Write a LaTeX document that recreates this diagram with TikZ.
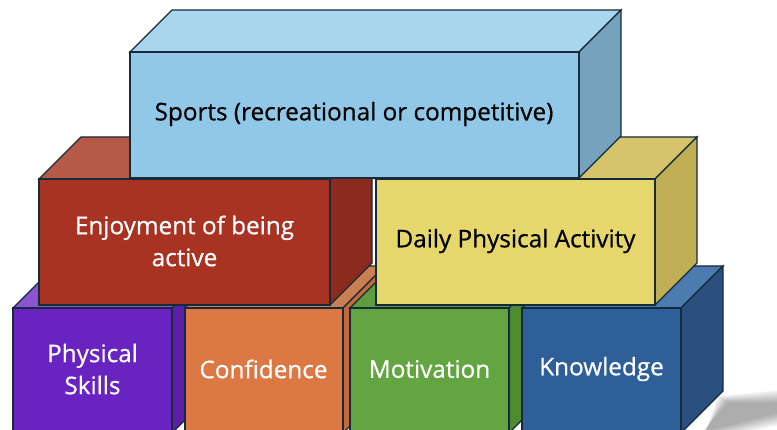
\documentclass[tikz,border=0pt]{standalone}
\usepackage{fontspec}
\setmainfont{Open Sans}
\newfontfamily\lblfont{Open Sans}[BoldFont={Open Sans}, BoldFeatures={FakeBold=0.6}]
\usetikzlibrary{calc}
\definecolor{edge}{HTML}{152A3A}
\definecolor{spF}{HTML}{92C8E7}\definecolor{spT}{HTML}{A9D5EE}\definecolor{spS}{HTML}{76A2BD}
\definecolor{rdF}{HTML}{A93322}\definecolor{rdT}{HTML}{B65A48}\definecolor{rdS}{HTML}{8B2A1E}
\definecolor{ylF}{HTML}{E6D76C}\definecolor{ylT}{HTML}{D6C56A}\definecolor{ylS}{HTML}{C0AF55}
\definecolor{puF}{HTML}{6923C0}\definecolor{puT}{HTML}{8B55D2}\definecolor{puS}{HTML}{5A1EA8}
\definecolor{orF}{HTML}{DC7843}\definecolor{orT}{HTML}{C97F4F}\definecolor{orS}{HTML}{C46A38}
\definecolor{grF}{HTML}{63A540}\definecolor{grT}{HTML}{5E9C3D}\definecolor{grS}{HTML}{4F8C31}
\definecolor{blF}{HTML}{2F5F99}\definecolor{blT}{HTML}{4C7BB0}\definecolor{blS}{HTML}{2B4F7E}
\newcommand\blockbox[7]{%
  \filldraw[fill=#6] (#1,#2) -- ++(42,-42) -- ++(#3,0) -- ++(-42,42) -- cycle;
  \filldraw[fill=#7] (#1+#3,#2) -- ++(42,-42) -- ++(0,#4) -- ++(-42,42) -- cycle;
  \filldraw[fill=#5] (#1,#2) rectangle ++(#3,#4);
}
\tikzset{
  lbl/.style={font=\lblfont\bfseries\fontsize{24.3}{32}\selectfont, align=center, inner sep=0pt},
  lblw/.style={lbl, text=white},
}
\begin{document}
\begin{tikzpicture}[x=1pt,y=-1pt,line width=1.3pt,draw=edge,line join=miter]
\useasboundingbox (0,0) rectangle (777,430);
\clip (0,0) rectangle (777,430);
% shadow
\foreach \i in {0,...,13}{
  \fill[black,opacity=0.026] (718+\i*0.8,396+\i*0.5) -- (777,390+\i*1.0) -- (777,426-\i*1.0) -- (702,442-\i*0.8) -- cycle;
}
% bottom row
\blockbox{13}{308}{159}{125}{puF}{puT}{puS}
\blockbox{185}{308}{158}{125}{orF}{orT}{orS}
\blockbox{350}{308}{159}{125}{grF}{grT}{grS}
\blockbox{522}{308}{159}{125}{blF}{blT}{blS}
% middle row
\blockbox{39}{179}{291}{126}{rdF}{rdT}{rdS}
\blockbox{376}{179}{279}{126}{ylF}{ylT}{ylS}
% top
\blockbox{130}{52}{449}{126}{spF}{spT}{spS}
% labels
\node[lbl] (sports) at (354,114) {Sports (recreational or competitive)};
\node[lblw] (enjoy) at (184.5,241) {Enjoyment of being\\active};
\node[lbl] (daily) at (515.5,241) {Daily Physical Activity};
\node[lblw] (phys) at (92.5,369) {Physical\\Skills};
\node[lblw] (conf) at (263.5,369) {Confidence};
\node[lblw] (moti) at (429.5,369) {Motivation};
\node[lblw] (know) at (601.5,369) {Knowledge};
\end{tikzpicture}
\end{document}
